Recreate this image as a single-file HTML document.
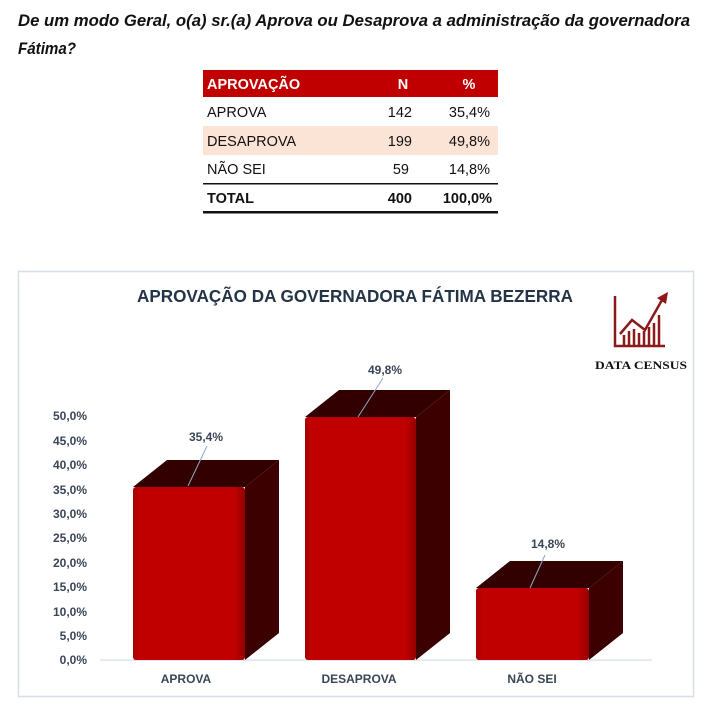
<!DOCTYPE html>
<html><head><meta charset="utf-8"><style>
html,body{margin:0;padding:0;background:#fff;width:719px;height:706px;overflow:hidden;font-family:"Liberation Sans",sans-serif}
</style></head><body>
<svg width="719" height="706" viewBox="0 0 719 706" xmlns="http://www.w3.org/2000/svg" style="position:absolute;left:0;top:0">
<defs>
<linearGradient id="fr" x1="0" x2="1" y1="0" y2="0">
<stop offset="0" stop-color="#a80000"/><stop offset="0.06" stop-color="#c00000"/><stop offset="0.9" stop-color="#c00000"/><stop offset="1" stop-color="#960000"/>
</linearGradient>
</defs>
<g font-family="Liberation Sans, sans-serif" font-weight="bold" font-style="italic" fill="#111">
<text x="18" y="26" font-size="16.5" textLength="672" lengthAdjust="spacingAndGlyphs">De um modo Geral, o(a) sr.(a) Aprova ou Desaprova a administração da governadora</text>
<text x="18" y="54" font-size="16.5" textLength="58" lengthAdjust="spacingAndGlyphs">Fátima?</text>
</g>
<!-- table -->
<rect x="203" y="70" width="295" height="27" fill="#c00000"/>
<rect x="203" y="126" width="295" height="29" fill="#fbe3d6"/>
<g font-size="14.5" fill="#111">
<text x="207" y="89" fill="#fff" font-weight="bold">APROVAÇÃO</text>
<text x="403" y="89" fill="#fff" font-weight="bold" text-anchor="middle">N</text>
<text x="469" y="89" fill="#fff" font-weight="bold" text-anchor="middle">%</text>
<text x="207" y="117">APROVA</text><text x="412" y="117" text-anchor="end">142</text><text x="490" y="117" text-anchor="end">35,4%</text>
<text x="207" y="146">DESAPROVA</text><text x="412" y="146" text-anchor="end">199</text><text x="490" y="146" text-anchor="end">49,8%</text>
<text x="207" y="174">NÃO SEI</text><text x="409" y="174" text-anchor="end">59</text><text x="490" y="174" text-anchor="end">14,8%</text>
<text x="207" y="203" font-weight="bold">TOTAL</text><text x="412" y="203" text-anchor="end" font-weight="bold">400</text><text x="492" y="203" text-anchor="end" font-weight="bold">100,0%</text>
</g>
<rect x="203" y="183" width="295" height="1.5" fill="#111"/>
<rect x="203" y="211" width="295" height="2.5" fill="#111"/>
<!-- chart box -->
<rect x="18.5" y="271.5" width="675" height="425" fill="#fff" stroke="#d5dde6" stroke-width="1.5"/>
<text x="355" y="302" font-size="17.5" font-weight="bold" fill="#243447" text-anchor="middle" textLength="436" lengthAdjust="spacingAndGlyphs">APROVAÇÃO DA GOVERNADORA FÁTIMA BEZERRA</text>
<!-- logo -->
<g stroke="#8b1a1a" fill="none" stroke-width="2.5">
<path d="M615 296 V346 H665"/>
<path d="M620 334 L632 320 L645 330 L662 300"/>
<path d="M624 345v-10 M629 345v-14 M634 345v-16 M639 345v-12 M644 345v-14 M649 345v-18 M654 345v-22 M659 345v-30"/>
</g>
<polygon points="657,298 668,292 666,304" fill="#8b1a1a"/>
<text x="641" y="369" font-size="11.5" font-weight="bold" fill="#111" text-anchor="middle" font-family="Liberation Serif, serif" textLength="92" lengthAdjust="spacingAndGlyphs">DATA CENSUS</text>
<!-- y axis -->
<g font-size="12" font-weight="bold" fill="#3a4656" text-anchor="end">
<text x="87" y="420">50,0%</text><text x="87" y="445">45,0%</text><text x="87" y="469">40,0%</text><text x="87" y="494">35,0%</text><text x="87" y="518">30,0%</text><text x="87" y="542">25,0%</text><text x="87" y="567">20,0%</text><text x="87" y="591">15,0%</text><text x="87" y="616">10,0%</text><text x="87" y="640">5,0%</text><text x="87" y="664">0,0%</text>
</g>
<rect x="100" y="659.5" width="552" height="1.2" fill="#d5dde6"/>
<!-- bars -->
<g>
<polygon points="245,487 279,460 279,633 245,660" fill="#3d0000"/>
<polygon points="133,487 167,460 279,460 245,487" fill="#330000"/>
<rect x="133" y="487" width="112" height="173" rx="3" fill="url(#fr)"/>
<polygon points="416,417 450,390 450,633 416,660" fill="#3d0000"/>
<polygon points="305,417 339,390 450,390 416,417" fill="#330000"/>
<rect x="305" y="417" width="111" height="243" rx="3" fill="url(#fr)"/>
<polygon points="589,588 623,561 623,633 589,660" fill="#3d0000"/>
<polygon points="476,588 510,561 623,561 589,588" fill="#330000"/>
<rect x="476" y="588" width="113" height="72" rx="3" fill="url(#fr)"/>
</g>
<g stroke="#8fa8c8" stroke-width="1">
<line x1="188" y1="486" x2="207" y2="446"/>
<line x1="358" y1="417" x2="383" y2="378"/>
<line x1="530" y1="588" x2="545" y2="555"/>
</g>
<g font-size="12" font-weight="bold" fill="#3a4656" text-anchor="middle">
<text x="206" y="441">35,4%</text>
<text x="385" y="374">49,8%</text>
<text x="548" y="548">14,8%</text>
<text x="186" y="683">APROVA</text>
<text x="359" y="683">DESAPROVA</text>
<text x="532" y="683">NÃO SEI</text>
</g>
</svg>
</body></html>
